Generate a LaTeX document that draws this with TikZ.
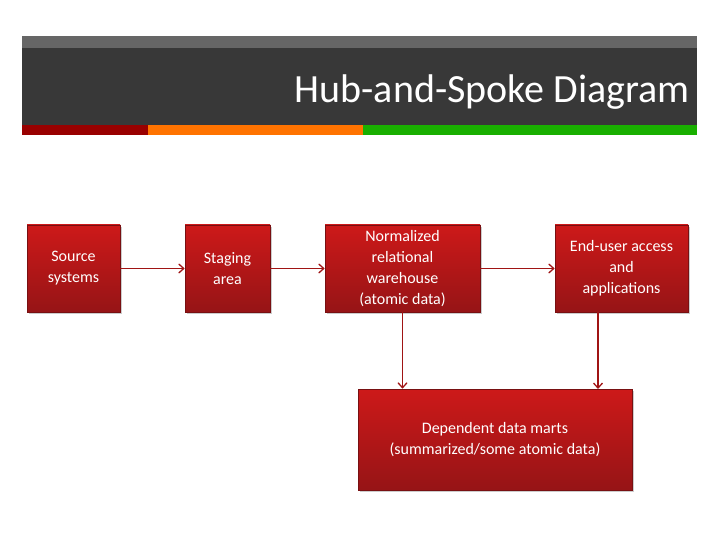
\documentclass[tikz,border=0pt]{standalone}
\usepackage{fontspec}
\setmainfont{Carlito}
\usetikzlibrary{shadows,arrows.meta}
\definecolor{boxtop}{RGB}{205,25,25}
\definecolor{boxbot}{RGB}{150,20,22}
\definecolor{arr}{RGB}{160,20,20}
\tikzset{
  box/.style={draw=boxbot!80!black, line width=0.6pt, top color=boxtop, bottom color=boxbot, text=white, align=center, font=\fontsize{16}{21}\selectfont, inner sep=2pt, drop shadow={shadow xshift=2pt,shadow yshift=-2pt,opacity=0.4}},
  conn/.style={draw=arr, line width=1.3pt, -{Straight Barb[length=5pt,width=9pt]}}
}
\begin{document}
\begin{tikzpicture}[x=1pt,y=-1pt]
\useasboundingbox[fill=white] (0,0) rectangle (720,540);
\fill[black!60] (22,36) rectangle (697,48);
\fill[black!78] (22,48) rectangle (697,125);
\fill[red!60!black] (22,125) rectangle (148,135);
\fill[orange!90!red] (148,125) rectangle (363,135);
\fill[green!65!black!90!yellow] (363,125) rectangle (697,135);
\node[anchor=base east, text=white, font=\fontsize{40}{44}\selectfont, inner sep=0] (title) at (690,103) {Hub-and-Spoke Diagram};
\node[box, minimum width=93, minimum height=87] (src) at (73.5,268.5) {Source\\systems};
\node[box, minimum width=85, minimum height=87] (stg) at (227.5,268.5) {Staging\\area};
\node[box, minimum width=155, minimum height=87] (nrw) at (402.5,268.5) {Normalized\\relational\\warehouse\\(atomic data)};
\node[box, minimum width=133, minimum height=87] (eua) at (621.5,268.5) {End-user access\\and\\applications};
\node[box, minimum width=274, minimum height=101] (ddm) at (495,439.5) {Dependent data marts\\(summarized/some atomic data)};
\draw[conn] (src.east) -- (stg.west);
\draw[conn] (stg.east) -- (nrw.west);
\draw[conn] (nrw.east) -- (eua.west);
\draw[conn] (nrw.south) -- (ddm.north -| nrw.south);
\draw[conn] (598,312) -- (598,389);
\end{tikzpicture}
\end{document}
